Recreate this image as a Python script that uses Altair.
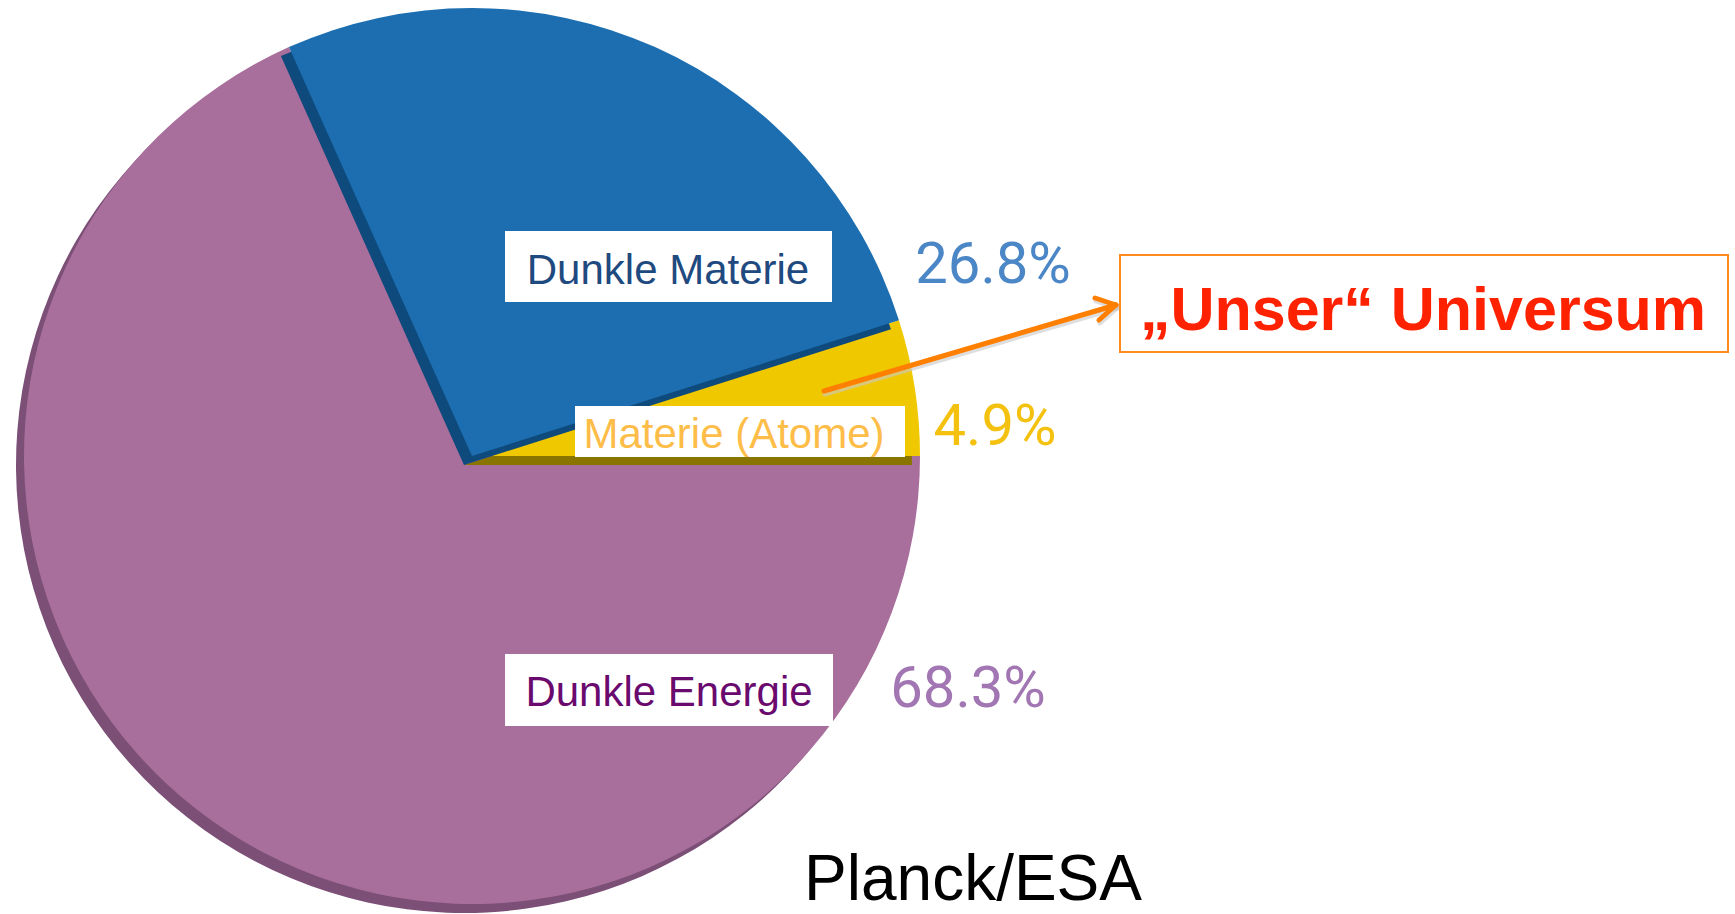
import math
import altair as alt
import pandas as pd

# ---------------- data ----------------
components = ["Dunkle Energie", "Dunkle Materie", "Materie (Atome)"]
shares = [68.3, 26.8, 4.9]
pct_labels = ["68.3%", "26.8%", "4.9%"]

top_colors = ["#a86e9c", "#1c6eb0", "#f0c800"]
side_colors = ["#7b4f76", "#0e4a7c", "#8a7400"]
label_colors = ["#6a0a6e", "#1f4a80", "#fdbd48"]
pct_colors = ["#a276b2", "#4b86c6", "#f4c10f"]

callout_text = "„Unser“ Universum"
credit_text = "Planck/ESA"

df = pd.DataFrame({
    "component": components,
    "share": shares,
    "pct": pct_labels,
    "order": list(range(len(components))),
})

# ---------------- layout ----------------
W, H = 1735, 914
CX, CY, R = 472, 456, 448
DX, DY = -8, 9

base = (
    alt.Chart(df)
    .transform_window(cum="sum(share)", sort=[alt.SortField("order")], frame=[None, 0])
    .transform_calculate(start="datum.cum - datum.share")
)

theta_scale = alt.Scale(domain=[0, 100], range=[math.pi / 2, math.pi / 2 + 2 * math.pi])

layers = []
# draw order: purple, yellow, blue (so each slice's side shows correctly)
for idx in [0, 2, 1]:
    name = components[idx]
    sel = base.transform_filter(alt.datum.component == name)
    side = sel.mark_arc(radius=R).encode(
        theta=alt.Theta("start:Q", scale=theta_scale, stack=False),
        theta2=alt.Theta2("cum:Q"),
        x=alt.value(CX + DX),
        y=alt.value(CY + DY),
        color=alt.value(side_colors[idx]),
    )
    top = sel.mark_arc(radius=R).encode(
        theta=alt.Theta("start:Q", scale=theta_scale, stack=False),
        theta2=alt.Theta2("cum:Q"),
        x=alt.value(CX),
        y=alt.value(CY),
        color=alt.value(top_colors[idx]),
    )
    layers += [side, top]

one = alt.Chart(pd.DataFrame({"k": [0]}))

# white label boxes
boxes = {
    "Dunkle Materie": (505, 832, 231, 302),
    "Materie (Atome)": (575, 905, 406, 457),
    "Dunkle Energie": (505, 833, 654, 726),
}
for name, (x1, x2, y1, y2) in boxes.items():
    layers.append(
        one.mark_rect(fill="white").encode(
            x=alt.value(x1), x2=alt.value(x2), y=alt.value(y1), y2=alt.value(y2)
        )
    )

# slice labels (inside boxes)
label_pos = {
    "Dunkle Materie": (668, 284),
    "Materie (Atome)": (734, 448),
    "Dunkle Energie": (669, 706),
}
pct_pos = {
    "Dunkle Materie": (993, 283),
    "Materie (Atome)": (995, 445),
    "Dunkle Energie": (968, 707),
}
for idx, name in enumerate(components):
    sel = base.transform_filter(alt.datum.component == name)
    lx, ly = label_pos[name]
    layers.append(
        sel.mark_text(
            font="Liberation Sans", fontSize=42, align="center", baseline="alphabetic",
            color=label_colors[idx],
        ).encode(text="component:N", x=alt.value(lx), y=alt.value(ly))
    )
    px, py = pct_pos[name]
    layers.append(
        sel.mark_text(
            font="Roboto", fontSize=58, fontWeight=400, align="center", baseline="alphabetic",
            color=pct_colors[idx],
        ).encode(text="pct:N", x=alt.value(px), y=alt.value(py))
    )

# arrow
ARROW = "#ff7f00"
segments = [
    (824, 391, 1116, 305),
    (1095, 298, 1116, 305),
    (1099, 320, 1116, 305),
]
for x1, y1, x2, y2 in segments:
    layers.append(
        one.mark_rule(color="#c8c8c8", strokeWidth=5, strokeCap="round", opacity=0.6).encode(
            x=alt.value(x1 + 1), x2=alt.value(x2 + 1), y=alt.value(y1 + 3), y2=alt.value(y2 + 3)
        )
    )
for x1, y1, x2, y2 in segments:
    layers.append(
        one.mark_rule(color=ARROW, strokeWidth=5, strokeCap="round").encode(
            x=alt.value(x1), x2=alt.value(x2), y=alt.value(y1), y2=alt.value(y2)
        )
    )

# callout box and text
layers.append(
    one.mark_rect(fill="white", stroke="#ff8a1e", strokeWidth=2).encode(
        x=alt.value(1120), x2=alt.value(1728), y=alt.value(255), y2=alt.value(352)
    )
)
layers.append(
    one.mark_text(
        text=callout_text, font="Liberation Sans", fontSize=61, fontWeight="bold",
        color="#ff2200", align="center", baseline="alphabetic",
    ).encode(x=alt.value(1423), y=alt.value(330))
)

# credit
layers.append(
    one.mark_text(
        text=credit_text, font="Liberation Sans", fontSize=64,
        color="#000000", align="center", baseline="alphabetic",
    ).encode(x=alt.value(973), y=alt.value(900))
)

chart = (
    alt.layer(*layers)
    .properties(width=W, height=H, autosize="none", padding=0, background="white")
    .configure_view(stroke=None)
)

chart.save("out.html", embed_options={"renderer": "svg", "actions": False})
